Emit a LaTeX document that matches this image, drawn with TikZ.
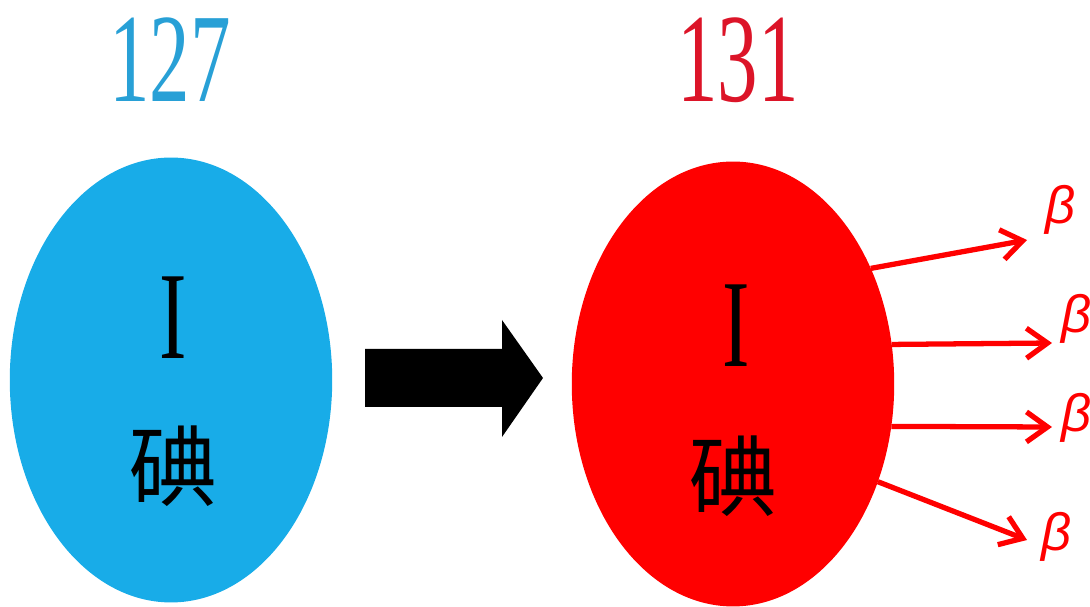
\documentclass[tikz,border=0pt]{standalone}
\usepackage{fontspec}
\newfontfamily\cjk{Noto Sans CJK SC}
\newfontfamily\betafont{Liberation Sans}
\newfontfamily\numfont{Liberation Serif}
\usetikzlibrary{arrows.meta,shapes.geometric}
\definecolor{iodblue}{RGB}{24,172,232}
\definecolor{numblue}{RGB}{40,160,214}
\definecolor{iodred}{RGB}{255,0,0}
\definecolor{numred}{RGB}{220,20,40}

\begin{document}
\begin{tikzpicture}[x=0.02cm,y=-0.02cm,
    atom/.style={ellipse,inner sep=0pt,outer sep=0pt,minimum width=6.45cm,minimum height=8.9cm},
    mass/.style={font=\numfont\fontsize{72}{72}\selectfont,xscale=0.64,transform shape,inner sep=0pt},
    sym/.style={font=\numfont\fontsize{71}{71}\selectfont,xscale=0.66,transform shape,inner sep=0pt},
    hanzi/.style={font=\cjk\fontsize{50}{50}\selectfont,inner sep=0pt},
    ray/.style={iodred,line width=3pt,-{Straight Barb[length=4.2mm,width=6mm]}},
    beta/.style={iodred,font=\betafont\itshape\fontsize{30}{30}\selectfont,inner sep=0pt}]
  \useasboundingbox (0,0) rectangle (1090,607);
  % the two nuclei
  \node[atom,fill=iodblue] (iodA) at (171,380) {};
  \node[atom,fill=iodred]  (iodB) at (733,384) {};
  \node[mass,numblue] (massA) at (170,60) {127};
  \node[mass,numred]  (massB) at (738,60) {131};
  \node[sym]   (symA) at (173,318) {I};
  \node[sym]   (symB) at (736,326) {I};
  \node[hanzi] (hanA) at (173,466) {碘};
  \node[hanzi] (hanB) at (733,476) {碘};
  % big black arrow
  \fill (365,349) -- (502,349) -- (502,320) -- (543,378)
        -- (502,437) -- (502,407) -- (365,407) -- cycle;
  % beta rays
  \coordinate (tipA) at (1027,240);
  \coordinate (tipB) at (1052,343);
  \coordinate (tipC) at (1052,427);
  \coordinate (tipD) at (1027,540);
  \node[beta] (betaA) at (1061,210) {β};
  \node[beta] (betaB) at (1077,319) {β};
  \node[beta] (betaC) at (1077,418) {β};
  \node[beta] (betaD) at (1057,537) {β};
  \foreach \a/\t in {40/tipA,14.5/tipB,-15/tipC,-34/tipD}{%
    \draw[ray] (iodB.\a) -- (\t);
  }
\end{tikzpicture}
\end{document}
